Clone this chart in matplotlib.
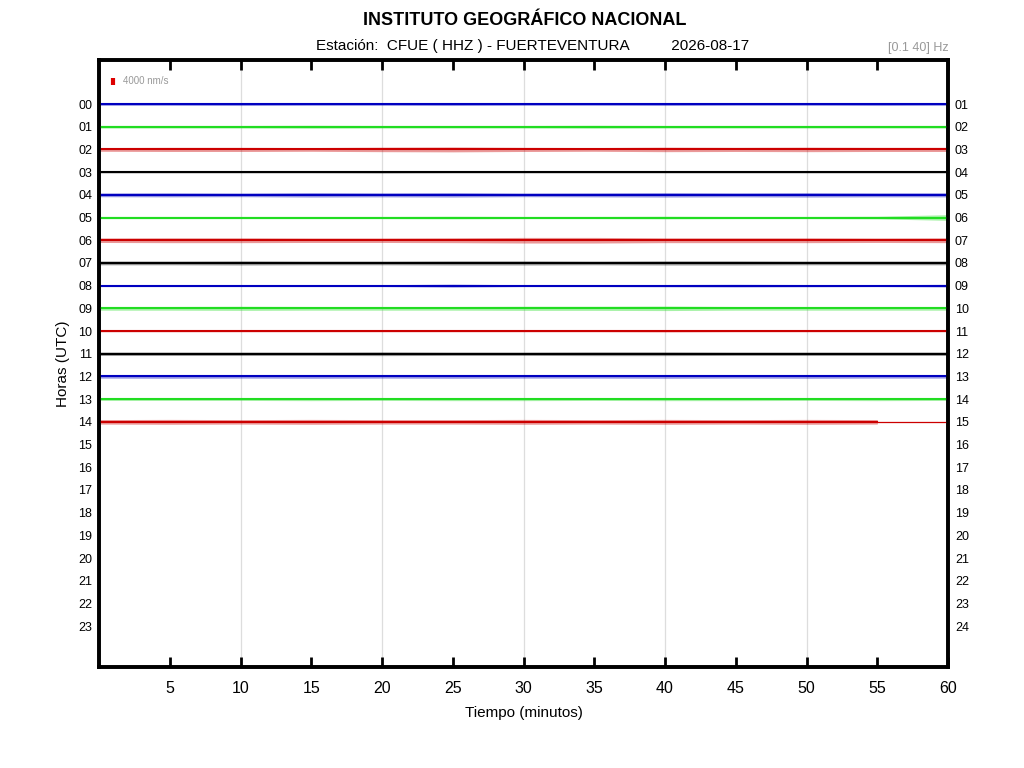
import numpy as np
import matplotlib
matplotlib.use("Agg")
import matplotlib.pyplot as plt

plt.rcParams['font.family'] = ['Liberation Sans', 'DejaVu Sans']

# helicorder rows: hour index, colour, noise envelope (nm/s) every 5 minutes
hours = list(range(15))
row_colors = ['#0000c0', '#22dd22', '#cc0000', '#000000'] * 4
minutes = [0, 5, 10, 15, 20, 25, 30, 35, 40, 45, 50, 55, 60]
envelopes = [
    [700, 700, 800, 700, 700, 800, 700, 700, 800, 700, 700, 800, 700],
    [700, 700, 700, 800, 700, 700, 700, 800, 700, 700, 700, 700, 700],
    [1000, 1100, 1100, 1000, 1200, 1300, 1100, 1000, 1200, 1100, 1200, 1100, 1100],
    [400, 400, 400, 400, 500, 400, 400, 400, 400, 400, 400, 400, 400],
    [1000, 1100, 1000, 1200, 1100, 1200, 1000, 1100, 1200, 1100, 1200, 1100, 1100],
    [600, 600, 600, 600, 600, 700, 600, 600, 700, 600, 600, 700, 1500],
    [1200, 1300, 1300, 1200, 1200, 1300, 1500, 1500, 1300, 1300, 1300, 1200, 1300],
    [1000, 1000, 1100, 1000, 1000, 1100, 1100, 1000, 1100, 1100, 1000, 1000, 1000],
    [500, 500, 500, 500, 500, 800, 500, 500, 600, 700, 600, 500, 700],
    [1000, 1000, 1100, 1000, 1000, 1000, 1100, 1100, 1200, 1000, 1000, 1000, 1000],
    [400, 400, 400, 400, 400, 400, 400, 400, 500, 400, 400, 400, 400],
    [900, 900, 900, 900, 1000, 900, 900, 1000, 1000, 900, 900, 900, 900],
    [900, 1000, 900, 1000, 900, 1000, 900, 900, 1000, 900, 1000, 900, 900],
    [700, 700, 700, 800, 700, 800, 800, 700, 800, 800, 700, 800, 700],
    [1200, 1300, 1200, 1300, 1200, 1200, 1300, 1200, 1300, 1200, 1300, 1200],
]
last_minute = [60] * 14 + [55]

left_labels = ['%02d' % h for h in range(24)]
right_labels = ['%02d' % (h + 1) for h in range(24)]
xtick_vals = [5, 10, 15, 20, 25, 30, 35, 40, 45, 50, 55, 60]

scale_nms = 4000
units_per_nms = 0.33 / scale_nms   # 4000 nm/s ~ a third of the row spacing

fig = plt.figure(figsize=(10.24, 7.68), dpi=100)
ax = fig.add_axes([0.0967, 0.1315, 0.8291, 0.7904])

for xv in [10, 20, 30, 40, 50]:
    ax.axvline(xv, color='#dddddd', lw=0.9, zorder=0)

for h in hours:
    c = row_colors[h]
    n = len(envelopes[h])
    xs = minutes[:n]
    xs[-1] = min(xs[-1], last_minute[h])
    env = np.array(envelopes[h]) * units_per_nms
    ax.fill_between(xs, h - env, h + env, color=c, alpha=0.4, lw=0, zorder=2)
    ax.plot([0, last_minute[h]], [h, h], color=c, lw=1.5, zorder=3)
    if last_minute[h] < 60:
        ax.plot([last_minute[h], 60], [h, h], color=c, lw=0.9, zorder=3)

# scale bar
ax.plot([1.0, 1.0], [-1.0 - scale_nms * units_per_nms / 2, -1.0 + scale_nms * units_per_nms / 2],
        color='#dd0000', lw=3, solid_capstyle='butt')
ax.text(1.7, -1.0, '%d nm/s' % scale_nms, color='#999999', fontsize=7, va='center')

ax.set_xlim(0, 60)
ax.set_ylim(24.8, -1.94)
ax.set_xticks(xtick_vals)
ax.set_xticklabels([str(v) for v in xtick_vals], fontsize=11.5)
ax.tick_params(axis='x', direction='in', length=7, width=2, top=True, pad=10)
ax.set_yticks(range(24))
ax.set_yticklabels(left_labels, fontsize=9)
ax.tick_params(axis='y', length=0, pad=5)
for sp in ax.spines.values():
    sp.set_linewidth(2.6)

ax2 = ax.twinx()
ax2.set_ylim(ax.get_ylim())
ax2.set_yticks(range(24))
ax2.set_yticklabels(right_labels, fontsize=9)
ax2.tick_params(axis='y', length=0, pad=5)
for sp in ax2.spines.values():
    sp.set_linewidth(2.6)

ax.set_xlabel('Tiempo (minutos)', fontsize=11, labelpad=7)
ax.set_ylabel('Horas (UTC)', fontsize=11, labelpad=6)

fig.text(0.512, 0.973, 'INSTITUTO GEOGRÁFICO NACIONAL', fontsize=13, fontweight='bold',
         ha='center', va='center')
fig.text(0.52, 0.94, 'Estación:  CFUE ( HHZ ) - FUERTEVENTURA          2026-08-17',
         fontsize=11, ha='center', va='center')
fig.text(0.926, 0.937, '[0.1 40] Hz', fontsize=9, color='#999999', ha='right', va='center')

fig.savefig('out.png', dpi=100)
